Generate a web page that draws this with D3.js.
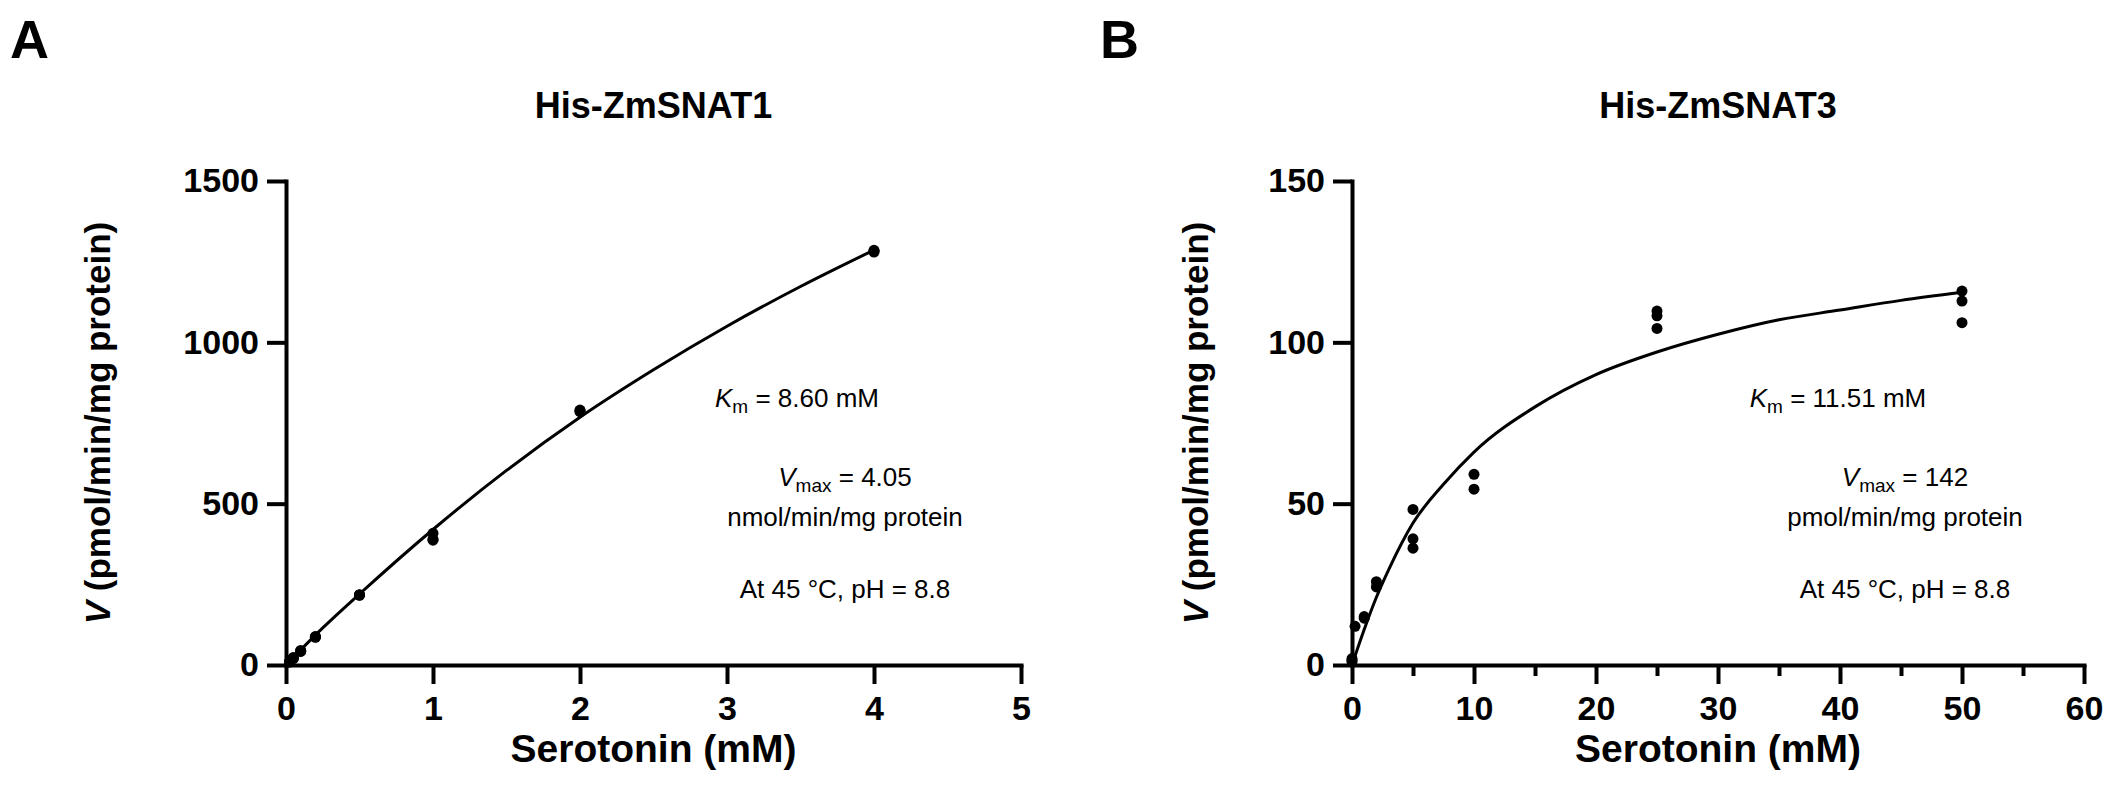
<!DOCTYPE html>
<html>
<head>
<meta charset="utf-8">
<script src="https://cdn.jsdelivr.net/npm/d3@7"></script>
<style>
  body { margin: 0; background: #fff; }
  text { font-family: Arial, 'Liberation Sans', sans-serif; fill: #000; }
</style>
</head>
<body>
<script>
// panel A: His-ZmSNAT1
let concA = [0.025, 0.05, 0.1, 0.2, 0.5, 1, 2, 4];
let rateA = [[10, 11, 9], [22, 20, 23], [43, 45, 42], [87, 88, 86], [217, 218, 216], [408, 387, 390], [790, 785, 787], [1280, 1285, 1283]];
let fitA = [[0, 0], [0.25, 115], [0.5, 220], [1, 420], [1.5, 603], [2, 768], [2.5, 915], [3, 1050], [3.5, 1173], [4, 1286]];
let xTicksA = [0, 1, 2, 3, 4, 5];
let yTicksA = [0, 500, 1000, 1500];

// panel B: His-ZmSNAT3
let concB = [0, 0.25, 1, 2, 5, 10, 25, 50];
let rateB = [[1.5, 1, 2], [12], [14.5, 15], [25.8, 24.2], [48.2, 39.1, 36.2], [59.1, 54.5], [109.7, 108.2, 104.3], [115.9, 112.8, 106.1]];
let fitB = [[0, 0], [1, 11], [2, 21], [3, 29.5], [5, 44], [7.5, 56], [10, 66], [15, 80], [20, 90], [25, 97], [30, 102.5], [35, 107], [40, 110], [45, 113], [50, 115.5]];
let xTicksB = [0, 10, 20, 30, 40, 50, 60];
let xMinorB = [5, 15, 25, 35, 45, 55];
let yTicksB = [0, 50, 100, 150];

let svg = d3.select('body')
  .append('svg')
    .attr('width', 2111)
    .attr('height', 808);

function drawPanel(o) {
  let x = d3.scaleLinear().domain([0, o.xMax]).range([o.left, o.right]);
  let y = d3.scaleLinear().domain([0, o.yMax]).range([o.bottom, o.top]);
  let g = svg.append('g');

  let xAxis = d3.axisBottom(x)
    .tickValues(o.xTicks)
    .tickFormat(d3.format('d'))
    .tickSizeInner(19)
    .tickSizeOuter(0)
    .tickPadding(12);
  g.append('g')
    .attr('transform', `translate(0, ${o.bottom})`)
    .call(xAxis);

  if (o.xMinor) {
    g.append('g')
      .attr('transform', `translate(0, ${o.bottom})`)
      .call(d3.axisBottom(x).tickValues(o.xMinor).tickSizeInner(11).tickSizeOuter(0).tickFormat(''))
      .call(s => s.select('.domain').remove());
  }

  let yAxis = d3.axisLeft(y)
    .tickValues(o.yTicks)
    .tickFormat(d3.format('d'))
    .tickSizeInner(19)
    .tickSizeOuter(0)
    .tickPadding(8);
  g.append('g')
    .attr('transform', `translate(${o.left}, 0)`)
    .call(yAxis);

  g.selectAll('.domain').attr('stroke-width', 4).attr('stroke-linecap', 'square');
  g.selectAll('.tick line').attr('stroke-width', 4);
  g.selectAll('.tick text')
    .style('font-family', 'Arial, "Liberation Sans", sans-serif')
    .style('font-size', '34px')
    .style('font-weight', 'bold');

  // fitted curve
  g.append('path')
    .datum(o.fit)
    .attr('fill', 'none')
    .attr('stroke', '#000')
    .attr('stroke-width', 3)
    .attr('d', d3.line().x(d => x(d[0])).y(d => y(d[1])).curve(d3.curveMonotoneX));

  // replicate points
  let pts = o.conc.flatMap((c, i) => o.rate[i].map(v => [c, v]));
  g.selectAll('circle')
    .data(pts)
    .join('circle')
      .attr('cx', d => x(d[0]))
      .attr('cy', d => y(d[1]))
      .attr('r', 5.5)
      .attr('fill', '#000');

  let cx = (o.left + o.right) / 2;
  g.append('text')
    .attr('x', cx).attr('y', 118)
    .attr('text-anchor', 'middle')
    .style('font-size', '36px').style('font-weight', 'bold')
    .text(o.title);

  g.append('text')
    .attr('x', o.letterX).attr('y', 58)
    .style('font-size', '54px').style('font-weight', 'bold')
    .text(o.letter);

  g.append('text')
    .attr('x', cx).attr('y', 762)
    .attr('text-anchor', 'middle')
    .style('font-size', '39px').style('font-weight', 'bold')
    .text('Serotonin (mM)');

  let yl = g.append('text')
    .attr('transform', `translate(${o.yLabelX}, ${(o.top + o.bottom) / 2}) rotate(-90)`)
    .attr('text-anchor', 'middle')
    .style('font-size', '35px').style('font-weight', 'bold');
  yl.append('tspan').style('font-style', 'italic').text('V');
  yl.append('tspan').text(' (pmol/min/mg protein)');

  // annotations
  let ann = g.append('g').style('font-size', '26px');
  let km = ann.append('text').attr('x', o.kmX).attr('y', 407).attr('text-anchor', 'middle');
  km.append('tspan').style('font-style', 'italic').text('K');
  km.append('tspan').attr('dy', 6).style('font-size', '19px').text('m');
  km.append('tspan').attr('dy', -6).text(' = ' + o.km + ' mM');

  let vm = ann.append('text').attr('x', o.vX).attr('y', 486).attr('text-anchor', 'middle');
  vm.append('tspan').style('font-style', 'italic').text('V');
  vm.append('tspan').attr('dy', 6).style('font-size', '19px').text('max');
  vm.append('tspan').attr('dy', -6).text(' = ' + o.vmax);

  ann.append('text').attr('x', o.vX).attr('y', 526).attr('text-anchor', 'middle').text(o.vUnit);
  ann.append('text').attr('x', o.vX).attr('y', 598).attr('text-anchor', 'middle').text('At 45 °C, pH = 8.8');
}

drawPanel({
  left: 286, right: 1021, top: 181, bottom: 665,
  xMax: 5, yMax: 1500, xTicks: xTicksA, yTicks: yTicksA,
  conc: concA, rate: rateA, fit: fitA,
  title: 'His-ZmSNAT1', letter: 'A', letterX: 10, yLabelX: 110,
  km: '8.60', vmax: '4.05', vUnit: 'nmol/min/mg protein',
  kmX: 797, vX: 845
});

drawPanel({
  left: 1352, right: 2084, top: 181, bottom: 665,
  xMax: 60, yMax: 150, xTicks: xTicksB, xMinor: xMinorB, yTicks: yTicksB,
  conc: concB, rate: rateB, fit: fitB,
  title: 'His-ZmSNAT3', letter: 'B', letterX: 1100, yLabelX: 1208,
  km: '11.51', vmax: '142', vUnit: 'pmol/min/mg protein',
  kmX: 1838, vX: 1905
});
</script>
</body>
</html>
